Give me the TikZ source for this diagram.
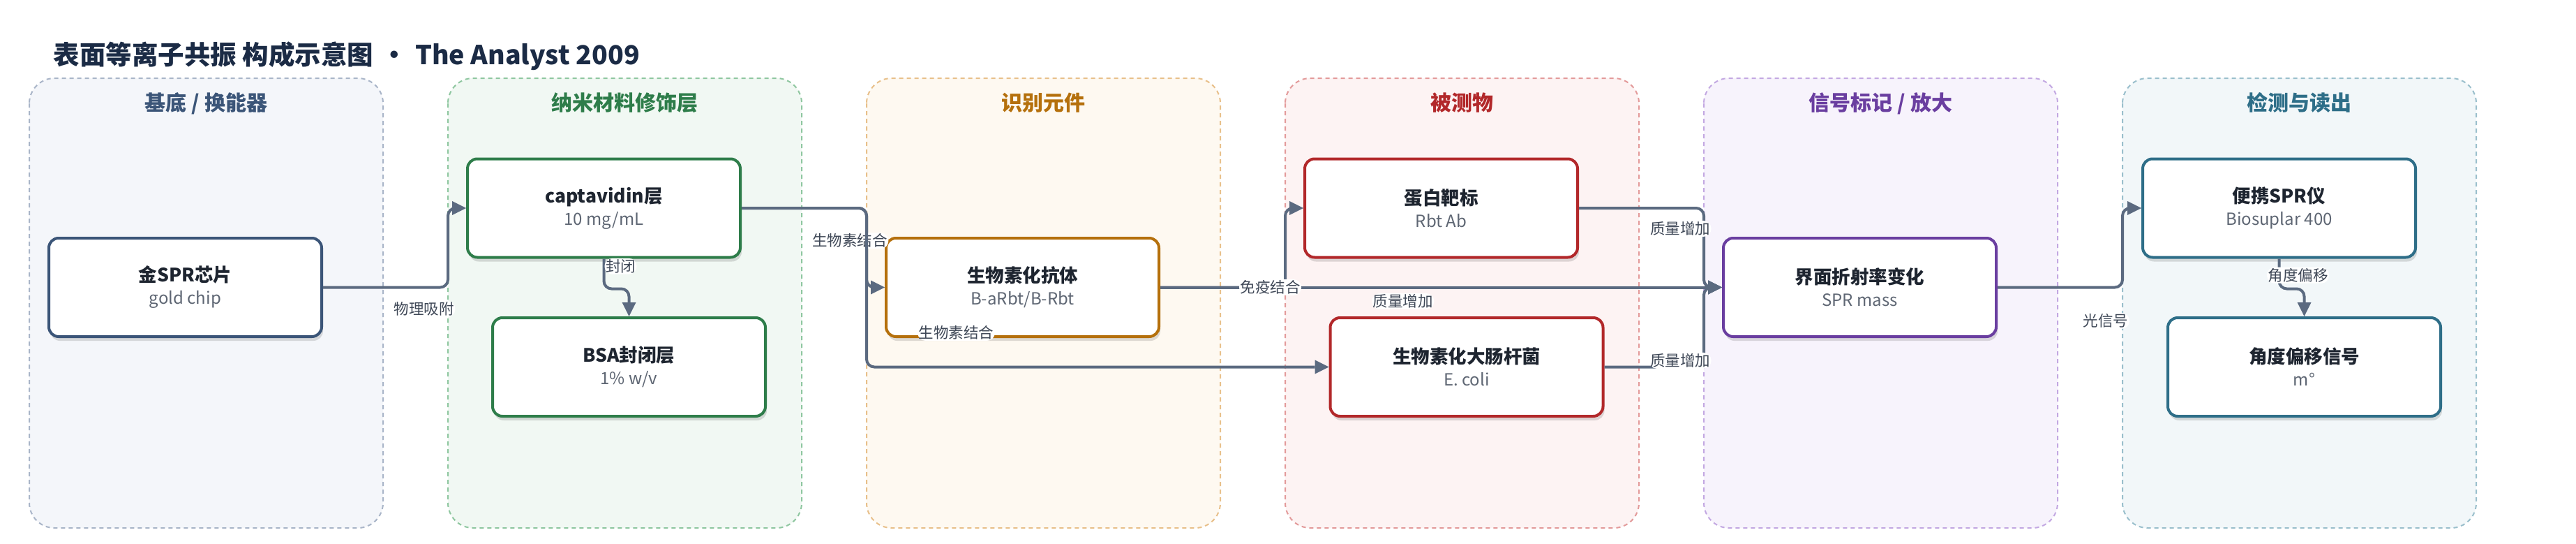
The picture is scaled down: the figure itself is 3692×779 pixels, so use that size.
\documentclass[tikz,border=0pt]{standalone}
\usepackage{fontspec}
\setmainfont{Noto Sans CJK SC}
\usepackage{xcolor}
\usepackage{tikz}
\usetikzlibrary{arrows.meta}
\usetikzlibrary{shadows}
\usetikzlibrary{positioning}

\definecolor{tikz-edge}{HTML}{5B6A80}
\definecolor{tikz-tag}{HTML}{3E4756}
\definecolor{tikz-title}{HTML}{1B2B45}
\definecolor{tikz-text}{HTML}{1E2530}
\definecolor{tikz-sub}{HTML}{5E6673}
% one set per column: fill, dashed border, ink
\definecolor{baseFill}{HTML}{F4F6FA}\definecolor{baseLine}{HTML}{A9B5C8}\definecolor{baseInk}{HTML}{3B5578}
\definecolor{nanoFill}{HTML}{F1F8F3}\definecolor{nanoLine}{HTML}{8FC7A0}\definecolor{nanoInk}{HTML}{2E7D4A}
\definecolor{recogFill}{HTML}{FEF9F1}\definecolor{recogLine}{HTML}{E8C08A}\definecolor{recogInk}{HTML}{B5700C}
\definecolor{analyteFill}{HTML}{FDF3F3}\definecolor{analyteLine}{HTML}{E39A9A}\definecolor{analyteInk}{HTML}{B2282A}
\definecolor{signalFill}{HTML}{F7F3FC}\definecolor{signalLine}{HTML}{C3A8E2}\definecolor{signalInk}{HTML}{6A3EA0}
\definecolor{detectFill}{HTML}{F2F7F9}\definecolor{detectLine}{HTML}{9ABFCC}\definecolor{detectInk}{HTML}{2E6E88}

\newcommand{\nodesub}{\fontsize{24}{30}\selectfont\mdseries\color{tikz-sub}}

\tikzset{x=1pt, y=1pt, every text node part/.style={align=center}}
\tikzstyle{panel} = [dash pattern=on 6pt off 5pt, line width=2pt, rounded corners=36pt]
\tikzstyle{header} = [anchor=base, font={\fontsize{30}{36}\selectfont\bfseries}]
\tikzstyle{block} = [rectangle, rounded corners=14pt, fill=white, line width=4pt, minimum width=391pt, minimum height=141pt, text=tikz-text, font={\fontsize{26.5}{32}\selectfont\bfseries}, drop shadow={shadow xshift=2pt, shadow yshift=-6pt, opacity=0.13, fill=black}]
\tikzstyle{ln} = [draw=tikz-edge, line width=4pt, rounded corners=11pt, -{Triangle[length=20pt, width=20pt, line width=0pt]}]
\tikzstyle{tag} = [fill=white, inner sep=1.5pt, text=tikz-tag, font={\fontsize{21.5}{24}\selectfont}]

\begin{document}
\begin{tikzpicture}
      \useasboundingbox[fill=white] (0,0) rectangle (3692,-779);
      \node[anchor=base west, text=tikz-title, font={\fontsize{37.5}{44}\selectfont\bfseries}] (title) at (73,-92) {表面等离子共振 构成示意图\hspace{0.3em}•\hspace{0.3em}The Analyst 2009};
      % columns
      \foreach \i/\hd/\tone in {0/{基底 / 换能器}/base, 1/纳米材料修饰层/nano, 2/识别元件/recog, 3/被测物/analyte, 4/{信号标记 / 放大}/signal, 5/检测与读出/detect} {
        \draw[panel, draw=\tone Line, fill=\tone Fill] (42+600*\i,-112) rectangle ++(507,-644);
        \node[header, text=\tone Ink] (hd\i) at (295.5+600*\i,-158) {\hd};
      }
      % boxes
      \node[block, draw=baseInk]     (chip) at (265.5,-411.5)                 {金SPR芯片\\{\nodesub gold chip}};
      \node[block, draw=recogInk]    (ab)[right=805pt of chip]                {生物素化抗体\\{\nodesub B-aRbt/B-Rbt}};
      \node[block, draw=signalInk]   (spr)[right=805pt of ab]                 {界面折射率变化\\{\nodesub SPR mass}};
      \node[block, draw=nanoInk]     (cap) at (865.5,-298)                    {captavidin层\\{\nodesub 10 mg/mL}};
      \node[block, draw=analyteInk]  (target)[right=805pt of cap]             {蛋白靶标\\{\nodesub Rbt Ab}};
      \node[block, draw=detectInk]   (dev)[right=806pt of target]             {便携SPR仪\\{\nodesub Biosuplar 400}};
      \node[block, draw=nanoInk]     (bsa)[below=82.5pt of cap, xshift=36pt]  {BSA封闭层\\{\nodesub 1\% w/v}};
      \node[block, draw=analyteInk]  (ecoli)[below=82.5pt of target, xshift=36.5pt] {生物素化大肠杆菌\\{\nodesub E. coli}};
      \node[block, draw=detectInk]   (shift)[below=82.5pt of dev, xshift=36pt] {角度偏移信号\\{\nodesub m°}};
      % links
      \draw[ln] (chip.east) -- ++(179,0) node[tag, pos=0.81, yshift=-31pt] (t1) {物理吸附} |- (cap.west);
      \draw[ln] (cap.south) -- ++(0,-43) node[tag, pos=0.25, xshift=24pt] (t2) {封闭} -| (bsa.north);
      \draw[ln] (cap.east) -- ++(179,0) |- node[tag, pos=0.25, xshift=-24pt, yshift=10pt] (t3) {生物素结合} (ab.west);
      \draw[ln] (cap.east) -- ++(179,0) |- node[tag, pos=0.597, yshift=49pt] (t4) {生物素结合} (ecoli.west);
      \draw[ln] (ab.east) -- node[tag, pos=0.432, yshift=-20pt] (t6) {质量增加} (spr.west);
      \draw[ln] (ab.east) -- ++(179,0) node[tag, pos=0.88] (t5) {免疫结合} |- (target.west);
      \draw[ln] (target.east) -- ++(179,0) |- node[tag, pos=0.13, xshift=-34pt] (t7) {质量增加} (spr.west);
      \draw[ln] (ecoli.east) -- ++(142.5,0) |- node[tag, pos=0.04, xshift=-34pt] (t8) {质量增加} (spr.west);
      \draw[ln] (spr.east) -- ++(179,0) node[tag, pos=0.867, yshift=-48pt] (t9) {光信号} |- (dev.west);
      \draw[ln] (dev.south) -- ++(0,-43) node[tag, pos=0.55, xshift=27pt] (t10) {角度偏移} -| (shift.north);
\end{tikzpicture}
\end{document}
